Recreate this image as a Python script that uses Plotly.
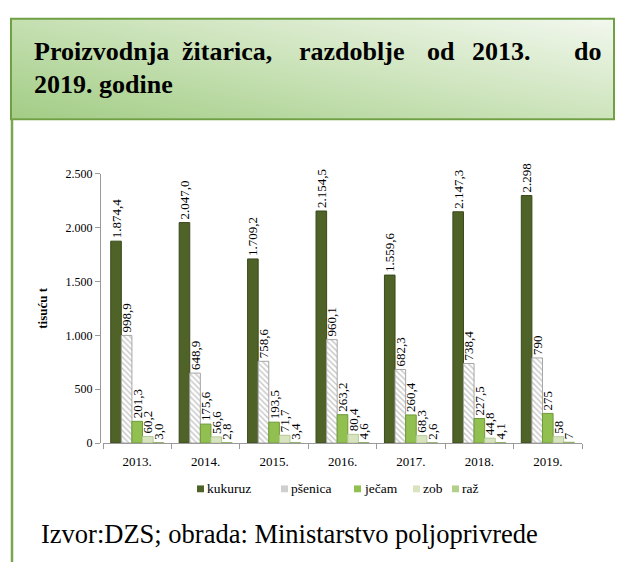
import plotly.graph_objects as go

W, H = 618, 569

years = ["2013.", "2014.", "2015.", "2016.", "2017.", "2018.", "2019."]
kukuruz = [1874.4, 2047.0, 1709.2, 2154.5, 1559.6, 2147.3, 2298]
psenica = [998.9, 648.9, 758.6, 960.1, 682.3, 738.4, 790]
jecam = [201.3, 175.6, 193.5, 263.2, 260.4, 227.5, 275]
zob = [60.2, 56.6, 71.7, 80.4, 68.3, 44.8, 58]
raz = [3.0, 2.8, 3.4, 4.6, 2.6, 4.1, 7]

kukuruz_lbl = ["1.874,4", "2.047,0", "1.709,2", "2.154,5", "1.559,6", "2.147,3", "2.298"]
psenica_lbl = ["998,9", "648,9", "758,6", "960,1", "682,3", "738,4", "790"]
jecam_lbl = ["201,3", "175,6", "193,5", "263,2", "260,4", "227,5", "275"]
zob_lbl = ["60,2", "56,6", "71,7", "80,4", "68,3", "44,8", "58"]
raz_lbl = ["3,0", "2,8", "3,4", "4,6", "2,6", "4,1", "7"]

y_ticks = [0, 500, 1000, 1500, 2000, 2500]
y_ticktext = ["0", "500", "1.000", "1.500", "2.000", "2.500"]

SERIF = "Liberation Serif"


def px(x):
    return x / W


def py(y):
    return 1 - y / H


fig = go.Figure()

series = [
    ("kukuruz", kukuruz, kukuruz_lbl, dict(color="#4F6228", line=dict(color="#3A4A1C", width=1)), "#4F6228"),
    ("pšenica", psenica, psenica_lbl, dict(color="#FFFFFF", line=dict(color="#A6A6A6", width=1),
                                            pattern=dict(shape="\\", fgcolor="#8C8C8C", bgcolor="#FFFFFF",
                                                         size=4, solidity=0.35)), "#CFCFCF"),
    ("ječam", jecam, jecam_lbl, dict(color="#92C050", line=dict(color="#6E9A3A", width=1)), "#92C050"),
    ("zob", zob, zob_lbl, dict(color="#D7E4BD", line=dict(color="#B5C99A", width=1)), "#D7E4BD"),
    ("raž", raz, raz_lbl, dict(color="#B3CF8A", line=dict(color="#8FAF66", width=1)), "#B3CF8A"),
]

for name, vals, lbls, marker, _ in series:
    fig.add_trace(go.Bar(
        name=name, x=years, y=vals, text=lbls, marker=marker,
        textposition="outside", textangle=-90, constraintext="none",
        textfont=dict(family=SERIF, size=13, color="#000000"),
        cliponaxis=False, xaxis="x", yaxis="y", showlegend=False,
    ))

# Header gradient panel (decorative background)
fig.add_trace(go.Heatmap(
    z=[[0.0, 0.5], [0.4, 1.0]], x=[0, 1], y=[0, 1],
    colorscale=[[0, "#A3CD86"], [0.5, "#CDE4BC"], [1, "#F3F8EF"]],
    zsmooth="best", showscale=False, hoverinfo="skip",
    xaxis="x2", yaxis="y2", showlegend=False,
))

fig.update_layout(
    width=W, height=H,
    margin=dict(l=0, r=0, t=0, b=0),
    paper_bgcolor="white", plot_bgcolor="rgba(0,0,0,0)",
    barmode="group", bargap=0.226, bargroupgap=0,
    separators=",.",
    font=dict(family=SERIF, color="#000000"),
    xaxis=dict(domain=[px(103), px(582)], anchor="y",
               showline=True, linecolor="#9A9A9A", linewidth=1,
               ticks="outside", tickson="boundaries", ticklen=5, tickcolor="#9A9A9A",
               ticklabelstandoff=6,
               tickfont=dict(family=SERIF, size=13), showgrid=False, zeroline=False),
    yaxis=dict(domain=[py(447), py(171)], anchor="free", position=px(100),
               range=[0, 2500], tickvals=y_ticks, ticktext=y_ticktext,
               showline=True, linecolor="#9A9A9A", linewidth=1,
               ticks="outside", ticklen=5, tickcolor="#9A9A9A",
               tickfont=dict(family=SERIF, size=12), showgrid=False, zeroline=False,
               title=dict(text="<b>tisuću t</b>", font=dict(family=SERIF, size=13), standoff=14)),
    xaxis2=dict(domain=[px(11), px(614)], range=[0, 1], visible=False, anchor="y2", fixedrange=True),
    yaxis2=dict(domain=[py(115), py(12)], range=[0, 1], visible=False, anchor="x2", fixedrange=True),
    showlegend=False,
)

# Compact legend drawn as swatches + text
legend_x = [197, 281, 354, 413, 452]
LEG_Y = 494
for (name, _, _, _, swatch), lx in zip(series, legend_x):
    fig.add_shape(type="rect", xref="paper", yref="paper",
                  x0=px(lx), x1=px(lx + 7), y0=py(LEG_Y + 3.5), y1=py(LEG_Y - 3.5),
                  fillcolor=swatch, line=dict(width=0))
    fig.add_annotation(text=name, xref="paper", yref="paper",
                       x=px(lx + 8), y=py(LEG_Y), xanchor="left", yanchor="middle",
                       showarrow=False, font=dict(family=SERIF, size=13.5, color="#000000"))

# Header border and left rule
fig.add_shape(type="rect", xref="paper", yref="paper",
              x0=px(11), x1=px(614), y0=py(115), y1=py(12),
              line=dict(color="#70A044", width=2), layer="above")
fig.add_shape(type="line", xref="paper", yref="paper",
              x0=px(12), x1=px(12), y0=py(115), y1=py(569),
              line=dict(color="#7AA650", width=2.5))

# Justified title, line 1 word by word
title_words = [("Proizvodnja", 32, "left"), ("žitarica,", 180, "left"), ("razdoblje", 297, "left"),
               ("od", 425, "left"), ("2013.", 470, "left"), ("do", 603, "right")]
for word, xp, anc in title_words:
    fig.add_annotation(text=f"<b>{word}</b>", xref="paper", yref="paper",
                       x=px(xp), y=py(46), xanchor=anc, yanchor="middle", showarrow=False,
                       font=dict(family=SERIF, size=26, color="#000000"))
fig.add_annotation(text="<b>2019. godine</b>", xref="paper", yref="paper",
                   x=px(32), y=py(79), xanchor="left", yanchor="middle", showarrow=False,
                   font=dict(family=SERIF, size=26, color="#000000"))

fig.add_annotation(text="Izvor:DZS; obrada: Ministarstvo poljoprivrede", xref="paper", yref="paper",
                   x=px(39), y=py(540), xanchor="left", yanchor="middle", showarrow=False,
                   font=dict(family=SERIF, size=26.5, color="#000000"))

fig.write_html("out.html", config={"displayModeBar": False},
               post_script="document.body.style.margin='0';document.body.style.overflow='hidden';")
